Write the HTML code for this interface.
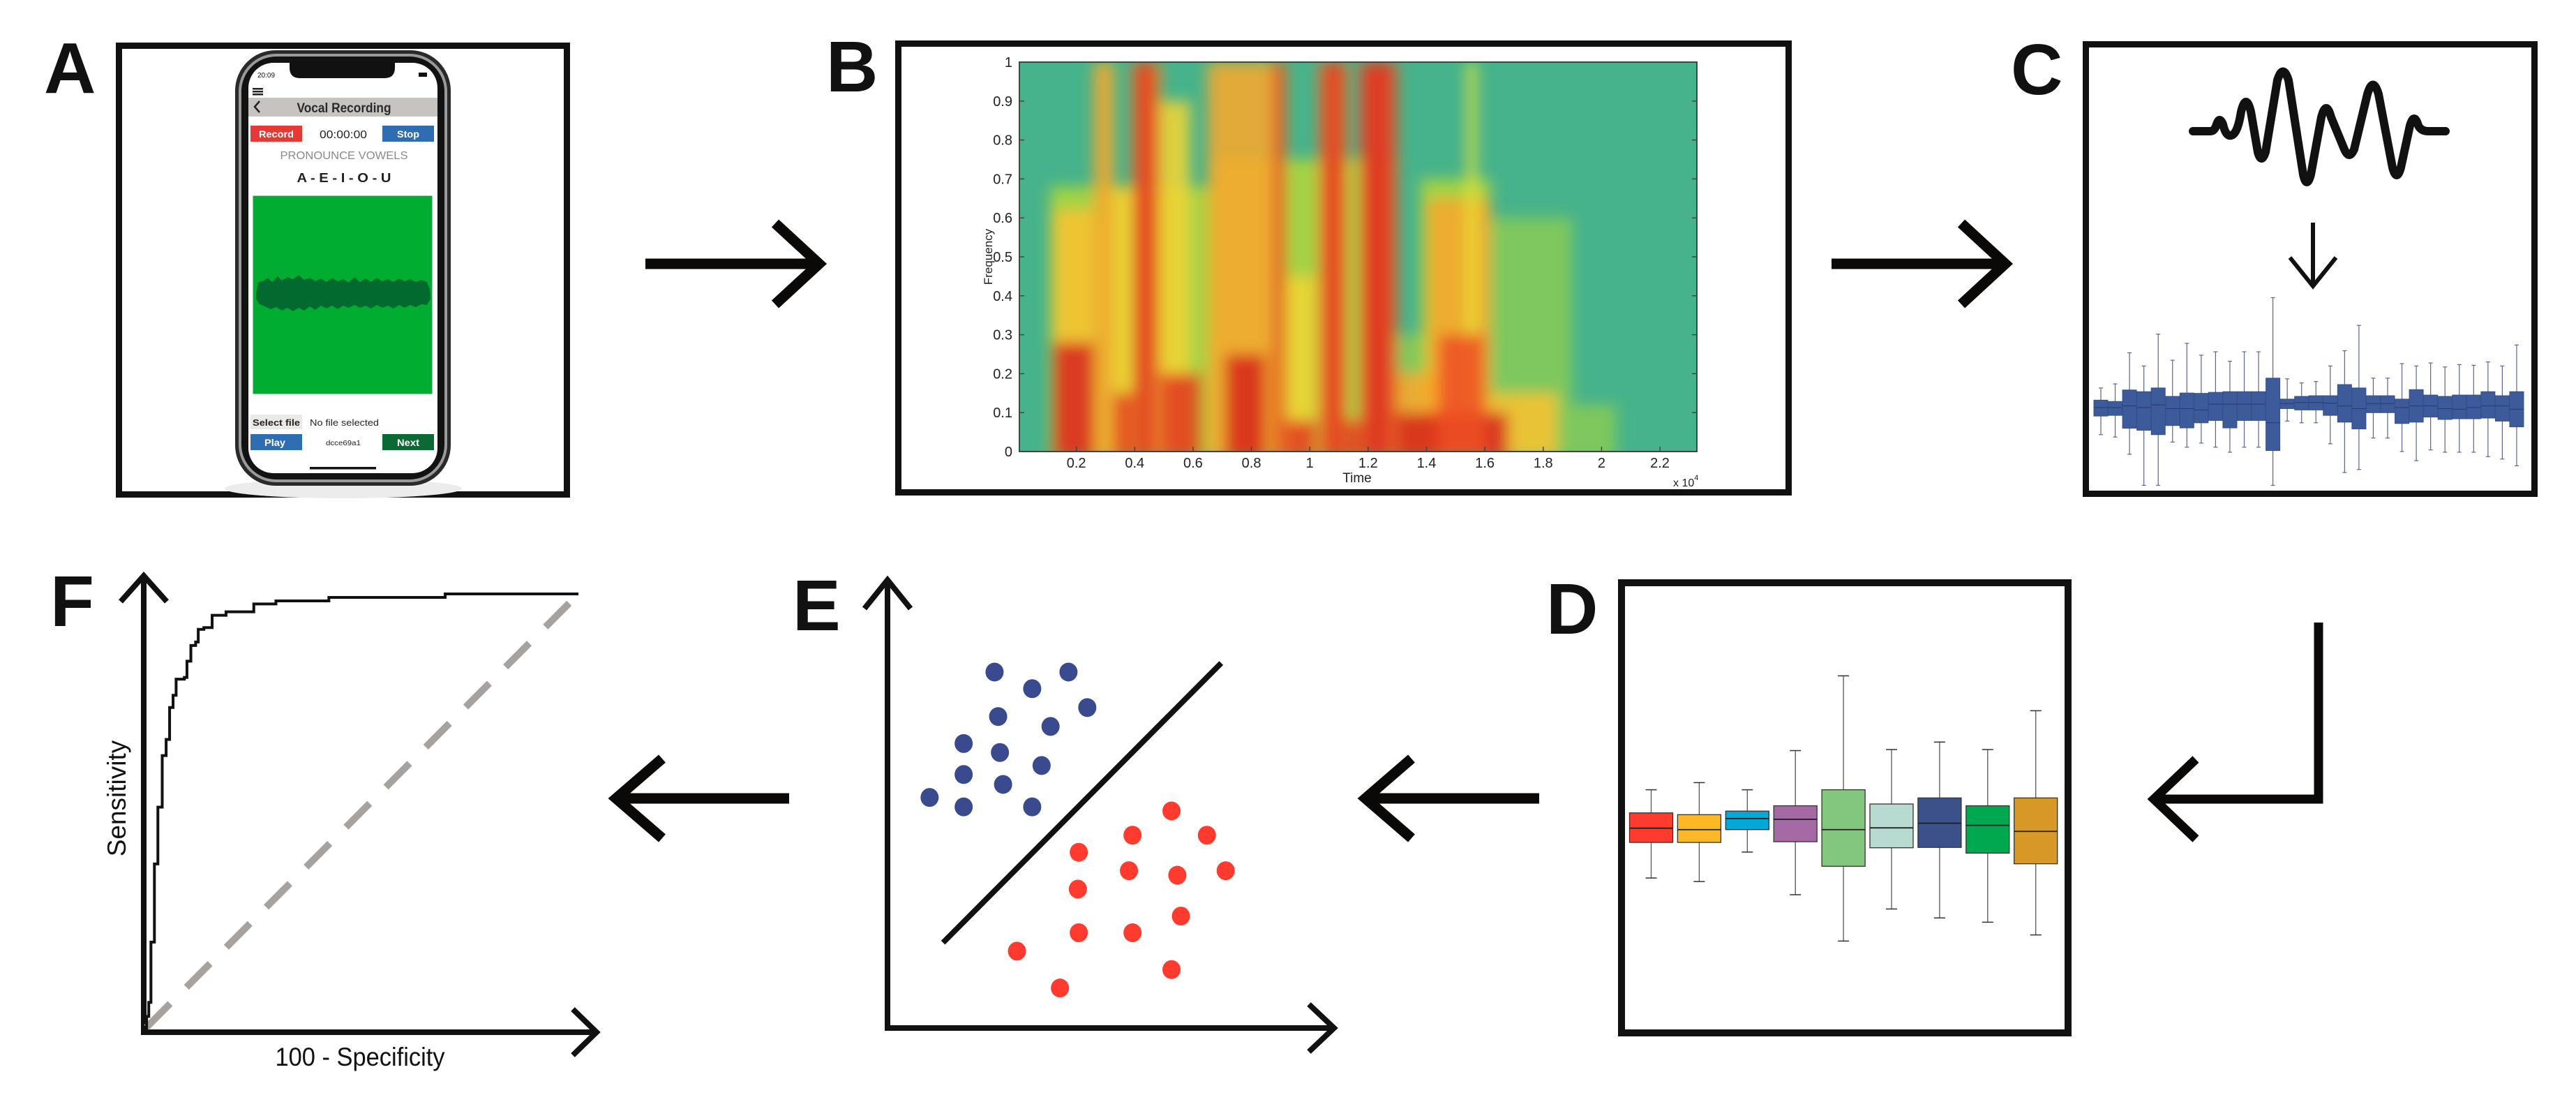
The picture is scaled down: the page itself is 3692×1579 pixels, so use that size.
<!DOCTYPE html>
<html><head><meta charset="utf-8"><style>
html,body{margin:0;padding:0;background:#fff}
svg{display:block}
text{font-family:"Liberation Sans",sans-serif}
</style></head><body>
<svg id="fig" width="3692" height="1579" viewBox="0 0 3692 1579" xmlns="http://www.w3.org/2000/svg">
<defs>
<filter id="blur" x="-5%" y="-5%" width="110%" height="110%"><feGaussianBlur stdDeviation="10"/></filter>
<clipPath id="specClip"><rect x="1461" y="89" width="971" height="558"/></clipPath>
</defs>
<rect x="0" y="0" width="3692" height="1579" fill="#fff"/>

<g font-weight="bold" font-size="103" fill="#111">
<text x="63" y="133">A</text>
<text x="1184" y="131">B</text>
<text x="2882" y="135">C</text>
<text x="2216" y="908">D</text>
<text x="1136" y="903">E</text>
<text x="72" y="897">F</text>
</g>

<g fill="none" stroke="#111">
<rect x="170.5" y="65.5" width="642" height="643" stroke-width="9"/>
<rect x="1287.5" y="62.5" width="1276" height="643" stroke-width="9"/>
<rect x="2989.5" y="63.5" width="643" height="644" stroke-width="9"/>
<rect x="2324" y="835" width="640" height="645" stroke-width="10"/>
</g>

<g fill="none" stroke="#0b0808" stroke-width="15">
<g><line x1="925" y1="378" x2="1172" y2="378"/><polyline points="1111,320 1174,378 1111,436"/></g>
<g><line x1="2625" y1="378" x2="2872" y2="378"/><polyline points="2811,320 2874,378 2811,436"/></g>
<g><line x1="885" y1="1144" x2="1131" y2="1144"/><polyline points="949,1087 883,1144 949,1201"/></g>
<g><line x1="1959" y1="1144" x2="2206" y2="1144"/><polyline points="2023,1087 1957,1144 2023,1201"/></g>
<g stroke-width="13"><polyline points="3323,892 3323,1145 3088,1145"/><polyline points="3147,1088 3087,1145 3147,1202"/></g>
</g>

<g>
<ellipse cx="492" cy="700" rx="170" ry="14" fill="#ececec"/>
<rect x="337" y="72" width="309" height="624" rx="58" fill="#2a2a2a"/>
<rect x="342" y="77" width="299" height="614" rx="54" fill="#9a9a9a"/>
<rect x="346" y="81" width="291" height="606" rx="50" fill="#121212"/>
<rect x="356" y="90" width="271" height="588" rx="36" fill="#fff"/>
<path d="M415,90 L566,90 L566,97 Q566,112 551,112 L430,112 Q415,112 415,97 Z" fill="#111"/>
<text x="369" y="111" font-size="10" fill="#111">20:09</text>
<rect x="600" y="104" width="12" height="6" fill="#111"/>
<g fill="#222"><rect x="362" y="126" width="15" height="2.5"/><rect x="362" y="130" width="15" height="2.5"/><rect x="362" y="134" width="15" height="2.5"/></g>
<rect x="356" y="140" width="271" height="27" fill="#c7c3c0"/>
<polyline points="372,145 365,153 372,161" fill="none" stroke="#222" stroke-width="2.5"/>
<text x="493" y="161" font-size="19" font-weight="bold" fill="#2a2a2a" text-anchor="middle" textLength="135" lengthAdjust="spacingAndGlyphs">Vocal Recording</text>
<rect x="359" y="180" width="74" height="23" fill="#e53935"/>
<text x="396" y="197" font-size="14" font-weight="bold" fill="#fff" text-anchor="middle" textLength="50" lengthAdjust="spacingAndGlyphs">Record</text>
<text x="492" y="198" font-size="16" fill="#222" text-anchor="middle" textLength="68" lengthAdjust="spacingAndGlyphs">00:00:00</text>
<rect x="548" y="180" width="74" height="23" fill="#2f6db3"/>
<text x="585" y="197" font-size="14" font-weight="bold" fill="#fff" text-anchor="middle" textLength="32" lengthAdjust="spacingAndGlyphs">Stop</text>
<text x="493" y="228" font-size="16" fill="#8a8a8a" text-anchor="middle" textLength="183" lengthAdjust="spacingAndGlyphs">PRONOUNCE VOWELS</text>
<text x="493" y="261" font-size="18" font-weight="bold" fill="#222" text-anchor="middle" textLength="135" lengthAdjust="spacingAndGlyphs">A - E - I - O - U</text>
<rect x="363" y="281" width="256" height="283" fill="#00ad30" stroke="#2a9a48" stroke-width="1"/>
<path d="M367,420 L370,405 L378,402 L384,398 L390,404 L398,396 L404,402 L412,397 L420,400 L428,394 L436,401 L444,398 L452,403 L460,399 L468,404 L476,398 L484,403 L492,400 L500,405 L508,397 L516,404 L524,399 L532,404 L540,398 L548,403 L556,400 L564,404 L572,399 L580,403 L588,400 L596,404 L604,401 L612,404 L616,415 L617,428 L612,437 L604,436 L596,440 L588,437 L580,441 L572,437 L564,442 L556,438 L548,441 L540,437 L532,442 L524,438 L516,441 L508,437 L500,441 L492,438 L484,443 L476,438 L468,442 L460,438 L452,444 L444,439 L436,445 L428,441 L420,446 L412,441 L404,445 L396,440 L388,443 L380,439 L372,436 L367,428 Z" fill="#036a2f"/>
<rect x="359" y="594" width="74" height="21" fill="#ebe8e5"/>
<text x="396" y="610" font-size="13" font-weight="bold" fill="#222" text-anchor="middle" textLength="68" lengthAdjust="spacingAndGlyphs">Select file</text>
<text x="444" y="610" font-size="13" fill="#222" textLength="99" lengthAdjust="spacingAndGlyphs">No file selected</text>
<rect x="359" y="622" width="74" height="23" fill="#2f6db3"/>
<text x="394" y="639" font-size="14" font-weight="bold" fill="#fff" text-anchor="middle" textLength="30" lengthAdjust="spacingAndGlyphs">Play</text>
<text x="492" y="638" font-size="10" fill="#222" text-anchor="middle" textLength="50" lengthAdjust="spacingAndGlyphs">dcce69a1</text>
<rect x="548" y="622" width="74" height="23" fill="#0b6a33"/>
<text x="585" y="639" font-size="14" font-weight="bold" fill="#fff" text-anchor="middle" textLength="32" lengthAdjust="spacingAndGlyphs">Next</text>
<rect x="444" y="669" width="95" height="3.5" fill="#111"/>
</g>

<g id="spec">
<rect x="1461" y="89" width="971" height="558" fill="#47b38c"/>
<g id="specCells" clip-path="url(#specClip)"><g id="specBands" filter="url(#blur)"></g></g>
<rect x="1461" y="89" width="971" height="558" fill="none" stroke="#444" stroke-width="2"/>
<g id="specTicks" font-size="20" fill="#222"></g>
<text x="1945" y="691" font-size="19" fill="#222" text-anchor="middle">Time</text>
<text x="2398" y="697" font-size="16" fill="#222">x 10<tspan dy="-9" font-size="11">4</tspan></text>
<text transform="translate(1422,368) rotate(-90)" font-size="17" fill="#222" text-anchor="middle">Frequency</text>
</g>

<g>
<path d="M3143,188 L3168,188 Q3174,188 3177,178 Q3181,166 3186,178 Q3190,196 3198,194 Q3207,192 3212,160 Q3219,132 3226,160 L3236,218 Q3241,236 3247,218 L3264,115 Q3272,90 3280,115 L3301,250 Q3306,272 3312,250 L3327,168 Q3334,142 3341,168 L3360,214 Q3367,230 3374,214 L3393,135 Q3401,108 3409,135 L3429,240 Q3435,262 3441,240 L3454,180 Q3460,160 3466,180 Q3470,188 3480,188 L3505,188" fill="none" stroke="#111" stroke-width="12" stroke-linecap="round" stroke-linejoin="round"/>
</g>
<g fill="none" stroke="#111" stroke-width="6">
<line x1="3315" y1="319" x2="3315" y2="408"/><polyline points="3282,369 3315,410 3348,369"/>
</g>
<g id="cBoxes"></g>

<g id="dBoxes"></g>

<g id="eChart">
<g fill="none" stroke="#111" stroke-width="8">
<polyline points="1272,831 1272,1473 1912,1473"/>
<polyline points="1239,872 1272,831 1305,872"/>
<polyline points="1876,1439 1912,1473 1876,1507"/>
</g>
</g>

<g id="fChart">
<g fill="none" stroke="#111" stroke-width="8">
<polyline points="206,825 206,1479 855,1479"/>
<polyline points="173,862 206,825 239,862"/>
<polyline points="821,1446 855,1479 821,1512"/>
</g>
<text transform="translate(180,1144) rotate(-90)" font-size="37" fill="#111" text-anchor="middle">Sensitivity</text>
<text x="516" y="1527" font-size="37" fill="#111" text-anchor="middle" textLength="243" lengthAdjust="spacingAndGlyphs">100 - Specificity</text>
</g>
</svg>
<script>
const specYTicks = [0,0.1,0.2,0.3,0.4,0.5,0.6,0.7,0.8,0.9,1];
const specXTicks = [0.2,0.4,0.6,0.8,1,1.2,1.4,1.6,1.8,2,2.2];
const bandT0 =    [0.11,0.66,1.30,1.38,1.62,1.90, 0.12,0.26,0.33,0.39,0.49,0.65,0.87,0.92,1.03,1.17,1.40,1.30,1.62,1.54, 0.12,0.33,0.49,0.71,0.92,1.12,1.30,1.44, 0.40,1.05,1.19,0.88];
const bandT1 =    [0.66,1.30,1.62,1.62,1.90,2.05, 0.26,0.33,0.39,0.49,0.59,0.87,0.92,1.02,1.13,1.30,1.62,1.45,1.85,1.57, 0.26,0.39,0.63,0.85,1.02,1.17,1.68,1.60, 0.47,1.11,1.27,0.91];
const bandTop =   [0.68,0.75,0.30,0.70,0.60,0.12, 0.62,1.00,0.68,1.00,0.90,1.00,1.00,0.45,1.00,1.00,0.65,0.20,0.15,1.00, 0.28,0.15,0.20,0.25,0.08,0.08,0.10,0.30, 1.00,1.00,1.00,1.00];
const bandLevel = [0.45,0.45,0.40,0.45,0.40,0.40, 0.65,0.70,0.60,0.75,0.60,0.70,0.75,0.60,0.80,0.85,0.70,0.70,0.65,0.55, 0.95,0.90,0.90,0.95,0.90,0.90,0.95,0.85, 0.90,0.90,0.92,0.90];

const cWhiskHi = [5.8,7.0,16.2,12.3,21.7,14.0,19.0,15.5,16.5,13.7,16.5,16.5,32.5,8.5,7.3,7.7,12.3,16.8,24.3,8.7,8.7,13.0,12.3,13.2,12.0,12.7,12.5,13.5,12.3,18.5];
const cQ3 =      [2.2,1.8,5.2,4.7,5.8,3.3,4.3,4.2,4.5,4.7,4.7,4.7,8.7,2.5,3.3,3.5,3.5,6.8,5.8,3.5,3.5,2.5,5.3,3.7,3.3,3.7,3.7,4.7,3.5,4.7];
const cMed =     [0,0,0.5,0,0.8,-0.3,-0.3,-0.7,1.0,1.0,1.0,1.0,-4.5,1.2,1.5,1.5,1.3,0.5,-0.3,1.2,1.2,0,0.5,0.5,-0.3,-0.5,0,0.5,0.5,-0.5];
const cQ1 =      [-2.5,-2.3,-6.1,-6.7,-8.0,-5.3,-6.0,-4.5,-3.8,-6.0,-3.8,-3.8,-12.7,-0.3,-0.7,-0.7,-2.3,-4.3,-6.3,-1.5,-1.5,-4.7,-4.3,-2.8,-3.5,-3.3,-3.3,-3.1,-4.0,-5.7];
const cWhiskLo = [-8.0,-8.7,-13.8,-23.0,-23.0,-10.2,-11.7,-10.5,-11.7,-13.2,-11.7,-11.7,-23.0,-4.0,-4.5,-4.5,-10.7,-19.2,-18.3,-9.0,-9.0,-13.0,-15.7,-12.5,-13.2,-13.2,-13.2,-14.5,-15.2,-17.2];

const dColors = ['#ff3b30','#fdb827','#00a9d8','#a56aa6','#83c77e','#b7dbd1','#3c5089','#00a84f','#d69826'];
const dWhiskHi = [11.0,13.0,11.0,22.0,43.0,22.3,24.4,22.3,33.2];
const dQ3 =      [4.5,4.0,5.0,6.5,11.0,7.0,8.7,6.5,8.7];
const dMed =     [0.2,-0.2,2.9,2.7,-0.2,0.3,1.6,1.0,-0.7];
const dQ1 =      [-3.8,-3.8,-0.2,-3.6,-10.5,-5.3,-5.2,-6.8,-9.8];
const dWhiskLo = [-13.8,-14.8,-6.5,-18.5,-31.5,-22.5,-25.0,-26.2,-29.8];

const blueX = [2.39,3.23,4.04,4.46,2.47,3.64,1.70,2.51,3.44,1.70,2.58,0.94,1.70,3.23];
const blueY = [7.92,7.55,7.92,7.13,6.93,6.71,6.33,6.13,5.84,5.64,5.42,5.13,4.92,4.92];
const redX = [6.34,5.47,7.13,4.27,5.39,6.47,7.55,4.25,6.55,4.27,5.47,2.89,6.34,3.85];
const redY = [4.83,4.29,4.29,3.91,3.50,3.40,3.50,3.09,2.49,2.12,2.12,1.71,1.30,0.89];
const boundaryX = [1.24,7.45];
const boundaryY = [1.90,8.12];

const rocFPR = [0,0.5,1.0,1.5,2.3,3.1,4.1,5.0,5.8,6.6,7.3,9.2,9.8,10.7,11.8,12.4,13.7,15.6,18.8,23.3,25.2,30.3,42.5,69.3,100];
const rocTPR = [0,3.3,6.5,20.3,38.2,51.2,63.0,66.7,74.0,76.8,80.5,80.9,84.6,88.2,89.0,91.9,92.3,95.1,95.9,95.9,97.7,98.4,99.2,100,100];
const chanceFPR = [0,100];
const chanceTPR = [0,100];

const NS = 'http://www.w3.org/2000/svg';
function mk(tag, attrs, parent){ const e=document.createElementNS(NS,tag); for(const k in attrs) e.setAttribute(k,attrs[k]); parent.appendChild(e); return e; }

const specX = t => 1459 + t*418.2;
const specY = f => 647 - f*558;
function cmap(l){
  const stops=[[0.35,[92,190,110]],[0.45,[175,215,60]],[0.55,[232,230,55]],[0.65,[248,195,48]],[0.75,[245,140,40]],[0.85,[238,80,36]],[0.95,[215,40,30]],[1.0,[175,28,22]]];
  if(l<=stops[0][0]) return 'rgb('+stops[0][1]+')';
  for(let i=1;i<stops.length;i++){ if(l<=stops[i][0]){ const a=stops[i-1],b=stops[i],u=(l-a[0])/(b[0]-a[0]); return 'rgb('+a[1].map((v,j)=>Math.round(v+(b[1][j]-v)*u)).join(',')+')'; } }
  return 'rgb(175,28,22)';
}
const bandsG = document.getElementById('specBands');
for(let i=0;i<bandT0.length;i++){
  const r = mk('rect',{x:specX(bandT0[i]),y:specY(bandTop[i]),width:specX(bandT1[i])-specX(bandT0[i]),height:specY(0)-specY(bandTop[i])+10,fill:cmap(bandLevel[i]),opacity:0.88},bandsG);
  
  
}
const ticksG = document.getElementById('specTicks');
specYTicks.forEach(v=>{
  const t = mk('text',{x:1451,y:specY(v)+7,'text-anchor':'end'},ticksG); t.textContent = String(v);
  
  
  mk('line',{x1:1461,y1:specY(v),x2:1468,y2:specY(v),stroke:'#444','stroke-width':1.5},ticksG);
  mk('line',{x1:2432,y1:specY(v),x2:2425,y2:specY(v),stroke:'#444','stroke-width':1.5},ticksG);
});
specXTicks.forEach(v=>{
  const t = mk('text',{x:specX(v),y:670,'text-anchor':'middle'},ticksG); t.textContent = String(v);
  
  
  mk('line',{x1:specX(v),y1:647,x2:specX(v),y2:640,stroke:'#444','stroke-width':1.5},ticksG);
});

const cG = document.getElementById('cBoxes');
const cX = i => 3011 + i*20.55;
const cY = v => 584 - v*4.847;
for(let i=0;i<cMed.length;i++){
  const x=cX(i);
  const w = mk('line',{x1:x,y1:cY(cWhiskHi[i]),x2:x,y2:cY(cWhiskLo[i]),stroke:'#5a6690','stroke-width':1.2},cG);
  
  
  mk('line',{x1:x-3,y1:cY(cWhiskHi[i]),x2:x+3,y2:cY(cWhiskHi[i]),stroke:'#5a6690','stroke-width':1.2},cG);
  mk('line',{x1:x-3,y1:cY(cWhiskLo[i]),x2:x+3,y2:cY(cWhiskLo[i]),stroke:'#5a6690','stroke-width':1.2},cG);
  const b = mk('rect',{x:x-10,y:cY(cQ3[i]),width:20,height:cY(cQ1[i])-cY(cQ3[i]),fill:'#3d5a9a',stroke:'#34508a','stroke-width':1},cG);
  
  
  mk('line',{x1:x-10,y1:cY(cMed[i]),x2:x+10,y2:cY(cMed[i]),stroke:'#243a70','stroke-width':1},cG);
}

const dG = document.getElementById('dBoxes');
const dX = i => 2366.5 + i*68.9;
const dY = v => 1187.7 - v*5.1;
for(let i=0;i<dMed.length;i++){
  const x=dX(i);
  const w = mk('line',{x1:x,y1:dY(dWhiskHi[i]),x2:x,y2:dY(dWhiskLo[i]),stroke:'#555','stroke-width':1.3},dG);
  
  
  mk('line',{x1:x-8,y1:dY(dWhiskHi[i]),x2:x+8,y2:dY(dWhiskHi[i]),stroke:'#333','stroke-width':1.5},dG);
  mk('line',{x1:x-8,y1:dY(dWhiskLo[i]),x2:x+8,y2:dY(dWhiskLo[i]),stroke:'#333','stroke-width':1.5},dG);
  const b = mk('rect',{x:x-31,y:dY(dQ3[i]),width:62,height:dY(dQ1[i])-dY(dQ3[i]),fill:dColors[i],stroke:'#333','stroke-width':1.3},dG);
  
  
  mk('line',{x1:x-31,y1:dY(dMed[i]),x2:x+31,y2:dY(dMed[i]),stroke:'#222','stroke-width':1.8},dG);
}

const eG = document.getElementById('eChart');
const eX = v => 1272 + v*64.2;
const eY = v => 1473 - v*64.4;
const bl = mk('line',{x1:eX(boundaryX[0]),y1:eY(boundaryY[0]),x2:eX(boundaryX[1]),y2:eY(boundaryY[1]),stroke:'#111','stroke-width':8},eG);


for(let i=0;i<blueX.length;i++){
  const c = mk('ellipse',{cx:eX(blueX[i]),cy:eY(blueY[i]),rx:13,ry:13.5,fill:'#3a4a8f'},eG);
  
  
}
for(let i=0;i<redX.length;i++){
  const c = mk('ellipse',{cx:eX(redX[i]),cy:eY(redY[i]),rx:13,ry:13.5,fill:'#ff3b30'},eG);
  
  
}

const fG = document.getElementById('fChart');
const fX = v => 207 + v*6.22;
const fY = v => 1477 - v*6.26;
const dl = mk('line',{x1:fX(chanceFPR[0])+3,y1:fY(chanceTPR[0])-5,x2:fX(chanceFPR[1]),y2:fY(chanceTPR[1]),stroke:'#a8a29e','stroke-width':10,'stroke-dasharray':'48 33'},fG);


let d = 'M'+fX(rocFPR[0])+','+fY(rocTPR[0]);
for(let i=1;i<rocFPR.length;i++){ d += ' L'+fX(rocFPR[i])+','+fY(rocTPR[i-1])+' L'+fX(rocFPR[i])+','+fY(rocTPR[i]); }
const rc = mk('path',{d:d,fill:'none',stroke:'#111','stroke-width':4},fG);


</script>
</body></html>
